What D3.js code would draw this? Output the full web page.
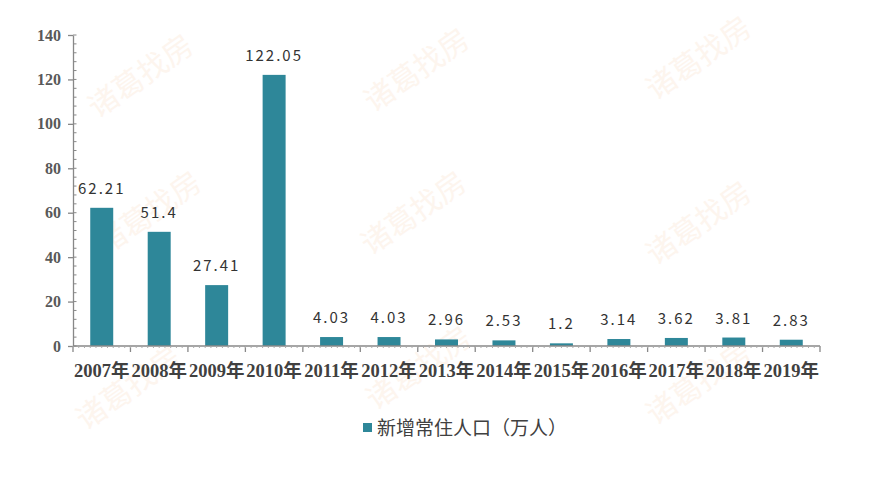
<!DOCTYPE html>
<html><head><meta charset="utf-8">
<script src="https://cdn.jsdelivr.net/npm/d3@7"></script>
<style>body{margin:0;background:#fff}svg{display:block}</style>
</head><body>
<svg id="c" width="891" height="490"></svg>
<script>
const categories = ["2007年","2008年","2009年","2010年","2011年","2012年","2013年","2014年","2015年","2016年","2017年","2018年","2019年"];
const values = [62.21,51.4,27.41,122.05,4.03,4.03,2.96,2.53,1.2,3.14,3.62,3.81,2.83];
const yTicks = [0,20,40,60,80,100,120,140];
const seriesName = "新增常住人口（万人）";
const watermark = "诸葛找房";

const svg = d3.select("#c");
const x0 = 73, x1 = 820, yBase = 346, yTop = 35;
const color = "#2e8799";

// watermarks
const wmPos = [[142,78],[418,72],[700,60],[150,215],[415,215],[700,225],[130,390],[420,370],[700,385]];
svg.append("g").selectAll("text").data(wmPos).join("text")
  .attr("transform", d => `translate(${d[0]},${d[1]}) rotate(-35)`)
  .attr("text-anchor","middle").attr("dominant-baseline","middle")
  .style("font-family","'Noto Sans CJK SC'").style("font-size","30px")
  .style("fill","#fbe3d0").style("opacity",0.35)
  .text(watermark);

const x = d3.scaleBand().domain(categories).range([x0, x1]).paddingInner(0.6).paddingOuter(0.3);
const xb = d3.scaleBand().domain(categories).range([x0, x1]);
const y = d3.scaleLinear().domain([0,140]).range([yBase, yTop]);

// bars
svg.append("g").selectAll("rect").data(values).join("rect")
  .attr("x",(d,i)=>x(categories[i])).attr("width",x.bandwidth())
  .attr("y",d=>y(d)).attr("height",d=>yBase-y(d)).attr("fill",color);

// labels
svg.append("g").selectAll("text").data(values).join("text")
  .attr("x",(d,i)=>x(categories[i])+x.bandwidth()/2)
  .attr("y",d=>y(d)-14)
  .attr("text-anchor","middle")
  .style("font-family","'Noto Sans CJK SC','Noto Sans',sans-serif")
  .style("font-size","15px").style("fill","#333")
  .style("letter-spacing","2px")
  .text(d=>String(d));

// y axis
const yAxis = d3.axisLeft(y).tickValues(yTicks).tickSize(5).tickSizeOuter(0);
const gy = svg.append("g").attr("transform",`translate(${x0},0)`).call(yAxis);
gy.select(".domain").attr("stroke","#888").attr("stroke-width",1.3);
gy.selectAll(".tick line").attr("stroke","#888").attr("stroke-width",1.3);
gy.selectAll(".tick text").attr("x",-12)
  .style("font-family","'Liberation Serif',serif").style("font-weight","bold")
  .style("font-size","16px").style("fill","#595959");
// y minor ticks
const yMinor = d3.range(0,141,4);
svg.append("g").selectAll("line").data(yMinor).join("line")
  .attr("x1",x0).attr("x2",x0+3.5).attr("y1",d=>y(d)).attr("y2",d=>y(d))
  .attr("stroke","#888").attr("stroke-width",1);

// x axis
const gx = svg.append("g").attr("transform",`translate(0,${yBase})`);
gx.append("line").attr("x1",x0).attr("x2",x1).attr("stroke","#888").attr("stroke-width",1.3);
const bounds = categories.map(c=>xb(c)).concat([x1]);
gx.selectAll("line.maj").data(bounds).join("line").attr("class","maj")
  .attr("x1",d=>d).attr("x2",d=>d).attr("y1",0).attr("y2",6)
  .attr("stroke","#888").attr("stroke-width",1.3);
const xMinor = d3.range(0, categories.length*10+1).map(i=>x0 + i*xb.bandwidth()/10);
gx.selectAll("line.min").data(xMinor).join("line").attr("class","min")
  .attr("x1",d=>d).attr("x2",d=>d).attr("y1",0).attr("y2",2)
  .attr("stroke","#aaa").attr("stroke-width",1);
svg.append("g").selectAll("text").data(categories).join("text")
  .attr("x",d=>xb(d)+xb.bandwidth()/2).attr("y",377)
  .attr("text-anchor","middle")
  .style("font-family","'Liberation Serif','Noto Sans CJK SC',serif").style("font-weight","bold")
  .style("font-size","18.5px").style("fill","#404040")
  .text(d=>d);

// legend
svg.append("rect").attr("x",363).attr("y",423).attr("width",9).attr("height",9).attr("fill",color);
svg.append("text").attr("x",377).attr("y",435)
  .style("font-family","'Noto Sans CJK SC',serif").style("font-size","19px").style("fill","#404040")
  .text(seriesName);
</script>
</body></html>
